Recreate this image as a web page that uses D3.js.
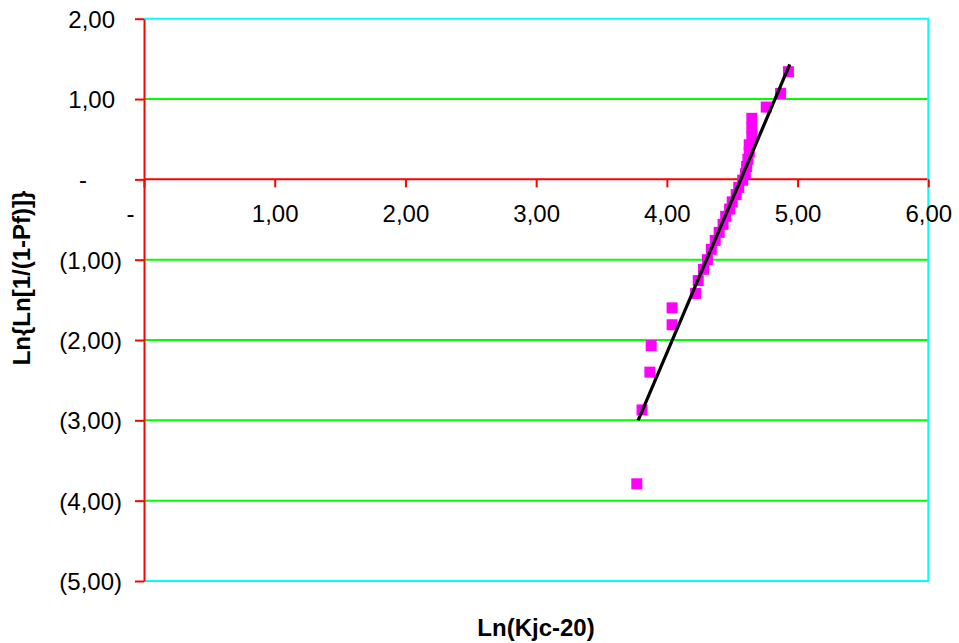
<!DOCTYPE html>
<html>
<head>
<meta charset="utf-8">
<script src="https://cdn.jsdelivr.net/npm/d3@7"></script>
<style>
  html, body { margin: 0; padding: 0; background: #fff; }
  svg { display: block; font-family: "Liberation Sans", Arial, sans-serif; }
</style>
</head>
<body>
<svg id="chart" width="959" height="643"></svg>
<script>
// Data: ln(Kjc-20) vs ln(ln(1/(1-Pf)))
const xValues = [3.77, 3.81, 3.87, 3.88, 4.04, 4.04, 4.22, 4.24, 4.28, 4.31,
                 4.34, 4.37, 4.40, 4.43, 4.45, 4.48, 4.50, 4.53, 4.55, 4.58,
                 4.60, 4.61, 4.62, 4.63, 4.63, 4.65, 4.65, 4.65, 4.76, 4.87, 4.93];
const yValues = [-3.79, -2.87, -2.40, -2.07, -1.81, -1.60, -1.42, -1.26, -1.12, -1.00,
                 -0.87, -0.76, -0.66, -0.56, -0.46, -0.37, -0.28, -0.19, -0.10, -0.01,
                 0.07, 0.16, 0.25, 0.34, 0.43, 0.53, 0.64, 0.76, 0.90, 1.07, 1.34];
// Linear trendline end points
const trendX = [3.78, 4.94];
const trendY = [-3.00, 1.43];
// Ticks
const xTicks = [0, 1, 2, 3, 4, 5, 6];
const yTicks = [-5, -4, -3, -2, -1, 0, 1, 2];
const gridValues = [-4, -3, -2, -1, 1];
const xTitle = "Ln(Kjc-20)";
const yTitle = "Ln{Ln[1/(1-Pf)]}";

const svg = d3.select("#chart");
const x = d3.scaleLinear().domain([0, 6]).range([144, 928.3]);
const y = d3.scaleLinear().domain([-5, 2]).range([581, 18.7]);

function fmt(v) {
  if (v === 0) return "-";
  const s = Math.abs(v).toFixed(2).replace(".", ",");
  return v < 0 ? "(" + s + ")" : s;
}

// Gridlines
svg.append("g").selectAll("line").data(gridValues).join("line")
  .attr("x1", x(0)).attr("x2", x(6))
  .attr("y1", d => y(d)).attr("y2", d => y(d))
  .attr("stroke", "#00ff00").attr("stroke-width", 2);

// Plot border (top, right, bottom) in cyan
const border = svg.append("g").attr("stroke", "#00ffff").attr("stroke-width", 2).attr("fill", "none");
border.append("path").attr("d",
  `M${x(0)},${y(2)}H${x(6)}V${y(-5)}H${x(0)}`);

// Y axis
const yAxis = svg.append("g")
  .attr("transform", `translate(${x(0)},0)`)
  .call(d3.axisLeft(y).tickValues(yTicks).tickSize(9).tickSizeOuter(0).tickPadding(20).tickFormat(fmt));
yAxis.select(".domain").attr("stroke", "#ff0000").attr("stroke-width", 2);
yAxis.selectAll(".tick line").attr("stroke", "#ff0000").attr("stroke-width", 2);
yAxis.selectAll(".tick text")
  .attr("font-size", 24).attr("fill", "#000")
  .attr("dy", "0.36em")
  .attr("dx", d => d < 0 ? 7 : (d === 0 ? -28 : 0));

// X axis at y=0
const xAxis = svg.append("g")
  .attr("transform", `translate(0,${y(0)})`)
  .call(d3.axisBottom(x).tickValues(xTicks).tickSize(8).tickSizeOuter(0).tickPadding(18).tickFormat(fmt));
xAxis.select(".domain").attr("stroke", "#ff0000").attr("stroke-width", 2);
xAxis.selectAll(".tick line").attr("stroke", "#ff0000").attr("stroke-width", 2);
xAxis.selectAll(".tick text")
  .attr("font-size", 24).attr("fill", "#000")
  .attr("dy", "0.71em")
  .attr("dx", d => d === 0 ? -14 : 0);
xAxis.select(".domain").attr("d", `M${x(0)},0H${x(6) - 1}`);

// Data markers
svg.append("g").selectAll("rect").data(xValues.map((d, i) => [d, yValues[i]])).join("rect")
  .attr("x", d => x(d[0]) - 5.5).attr("y", d => y(d[1]) - 5.5)
  .attr("width", 11).attr("height", 11)
  .attr("fill", "#ff00ff");

// Trendline
svg.append("line")
  .attr("x1", x(trendX[0])).attr("y1", y(trendY[0]))
  .attr("x2", x(trendX[1])).attr("y2", y(trendY[1]))
  .attr("stroke", "#000").attr("stroke-width", 3.2);

// Axis titles
svg.append("text")
  .attr("x", 536).attr("y", 636)
  .attr("text-anchor", "middle").attr("font-size", 24).attr("font-weight", "bold")
  .text(xTitle);
svg.append("text")
  .attr("transform", "translate(30,278) rotate(-90)")
  .attr("text-anchor", "middle").attr("font-size", 24).attr("font-weight", "bold")
  .text(yTitle);
</script>
</body>
</html>
